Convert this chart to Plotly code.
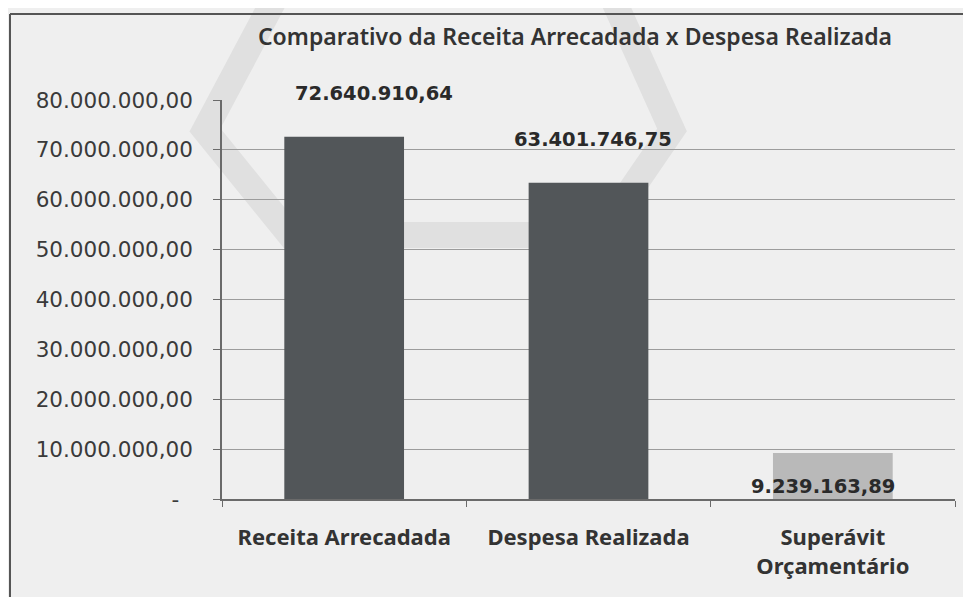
import plotly.graph_objects as go

categories = ["Receita Arrecadada", "Despesa Realizada", "Superávit<br>Orçamentário"]
values = [72640910.64, 63401746.75, 9239163.89]
tick_values = [0, 10e6, 20e6, 30e6, 40e6, 50e6, 60e6, 70e6, 80e6]
title_text = "Comparativo da Receita Arrecadada x Despesa Realizada"


def br(v):
    # 1,234.56 -> 1.234,56
    s = f"{v:,.2f}"
    return s.replace(",", "X").replace(".", ",").replace("X", ".")


tick_text = [br(v) if v else "-\u00a0\u00a0" for v in tick_values]
bar_colors = ["#525659", "#525659", "#b9b9b9"]

# page offset (body margin 8px) -> plot area spans x 222..955, y 100..499 on the page
def px(X):
    return (X - 222) / 733


def py(Y):
    return 1 - (Y - 100) / 399


fig = go.Figure()

fig.add_trace(
    go.Bar(
        x=categories,
        y=values,
        marker=dict(color=bar_colors, line=dict(width=0)),
        width=0.49,
        hoverinfo="skip",
    )
)

# data labels (Excel style, above the bars; the surplus label sits low)
label_shift = [(30, 30), (4, 30), (-10, -20)]
for cat, v, (xs, ys) in zip(categories, values, label_shift):
    fig.add_annotation(
        x=cat,
        y=v,
        text=br(v),
        showarrow=False,
        yanchor="bottom" if ys > 0 else "top",
        xshift=xs,
        yshift=ys,
        font=dict(family="DejaVu Sans", size=19.5, color="#2a2a2a", weight="bold"),
    )

# faint watermark from the scanned page
hexagon = [(205, 130), (290, -30), (600, -30), (672, 130), (600, 235), (290, 235)]
path = "M " + " L ".join(f"{px(a)},{py(b)}" for a, b in hexagon) + " Z"
fig.add_shape(type="path", xref="paper", yref="paper", path=path,
              line=dict(color="#e0e0e0", width=26), layer="below")

# frame of the chart (left and top edges visible in the scan)
fig.add_shape(type="line", xref="paper", yref="paper",
              x0=px(10), x1=px(990), y0=py(14), y1=py(14),
              line=dict(color="#555555", width=2))
fig.add_shape(type="line", xref="paper", yref="paper",
              x0=px(10), x1=px(10), y0=py(14), y1=py(620),
              line=dict(color="#555555", width=2))

fig.update_layout(
    width=971,
    height=597,
    margin=dict(l=214, r=24, t=92, b=106),
    paper_bgcolor="#efefef",
    plot_bgcolor="rgba(0,0,0,0)",
    showlegend=False,
    title=dict(
        text=title_text,
        x=px(575),
        xref="paper",
        xanchor="center",
        y=1 - 29 / 597,
        yanchor="middle",
        font=dict(family="Noto Sans", size=23, color="#333333", weight=600),
    ),
    xaxis=dict(
        type="category",
        showline=True,
        linecolor="#6a6a6a",
        linewidth=1.5,
        ticks="outside",
        tickson="boundaries",
        ticklen=6,
        tickcolor="#6a6a6a",
        showgrid=False,
        ticklabelstandoff=18,
        tickfont=dict(family="Noto Sans", size=22, color="#333333", weight="bold"),
    ),
    yaxis=dict(
        range=[0, 80e6],
        tickvals=tick_values,
        ticktext=tick_text,
        showline=True,
        linecolor="#6a6a6a",
        linewidth=1.5,
        ticks="outside",
        ticklen=7,
        tickcolor="#6a6a6a",
        gridcolor="#9c9c9c",
        gridwidth=1,
        zeroline=False,
        ticklabelstandoff=16,
        tickfont=dict(family="DejaVu Sans", size=21.5, color="#3a3a3a"),
    ),
)

fig.write_html("out.html")
